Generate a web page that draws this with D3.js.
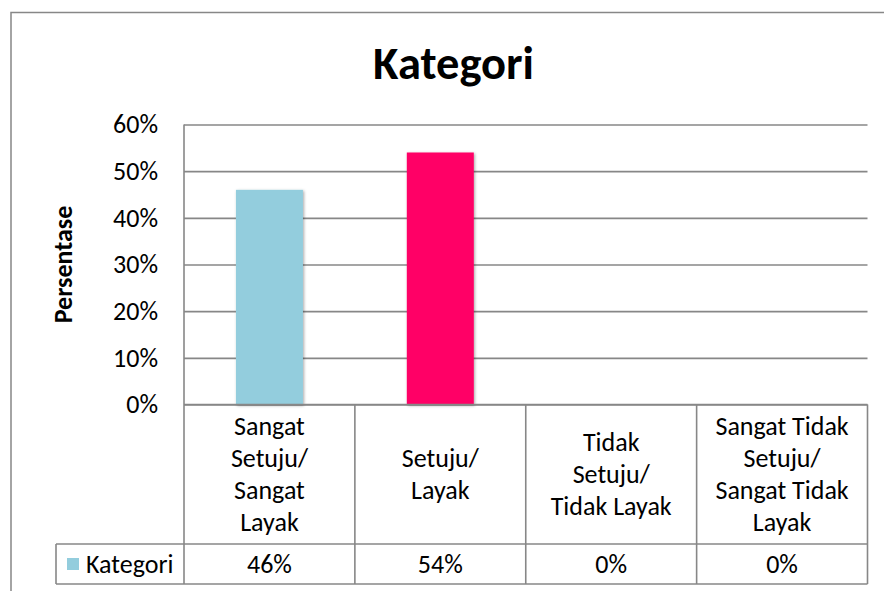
<!DOCTYPE html>
<html>
<head>
<meta charset="utf-8">
<script src="https://cdn.jsdelivr.net/npm/d3@7"></script>
<style>
  html, body { margin: 0; padding: 0; background: #fff; }
  #container { width: 884px; height: 591px; }
  text { font-family: Carlito, Calibri, Lato, sans-serif; fill: #000; }
</style>
</head>
<body>
<div id="container"></div>
<script>
// ---- data ----
const chartTitle = "Kategori";
const yTitle = "Persentase";
const seriesName = "Kategori";
// category labels, one entry per wrapped line
const categories = [
  ["Sangat", "Setuju/", "Sangat", "Layak"],
  ["Setuju/", "Layak"],
  ["Tidak", "Setuju/", "Tidak Layak"],
  ["Sangat Tidak", "Setuju/", "Sangat Tidak", "Layak"]
];
const values = [0.46, 0.54, 0, 0];
const valueLabels = ["46%", "54%", "0%", "0%"];
const barColors = ["#93cddd", "#ff0066", "#93cddd", "#93cddd"];
const yTicks = [0, 0.1, 0.2, 0.3, 0.4, 0.5, 0.6];

// ---- layout ----
const width = 884;
const height = 591;
const plotLeft = 184;
const plotRight = 867.5;
const plotTop = 124.5;
const plotBottom = 404.5;
const rowSplit = 544; // bottom of category row / top of value row
const tableBottom = 584;
const legendLeft = 56;
const lineColor = "#878787";
const fontSize = 26;

const svg = d3
  .select("#container")
  .append("svg")
  .attr("width", width)
  .attr("height", height)
  .attr("viewBox", [0, 0, width, height]);

// bar shadow
const defs = svg.append("defs");
defs
  .append("filter")
  .attr("id", "shadow")
  .attr("x", "-20%")
  .attr("y", "-20%")
  .attr("width", "140%")
  .attr("height", "140%")
  .append("feDropShadow")
  .attr("dx", 1)
  .attr("dy", 1)
  .attr("stdDeviation", 1.6)
  .attr("flood-color", "#000")
  .attr("flood-opacity", 0.35);

// outer chart frame (cut off at right and bottom)
svg
  .append("rect")
  .attr("x", 11)
  .attr("y", 12.5)
  .attr("width", 900)
  .attr("height", 600)
  .attr("fill", "#fff")
  .attr("stroke", lineColor)
  .attr("stroke-width", 1.5);

// scales
const x = d3
  .scaleBand()
  .domain(d3.range(categories.length))
  .range([plotLeft, plotRight])
  .padding(0);
const y = d3.scaleLinear().domain([0, 0.6]).range([plotBottom, plotTop]);
const barWidth = x.bandwidth() * 0.392;

// title
svg
  .append("text")
  .attr("x", 453.5)
  .attr("y", 79)
  .attr("text-anchor", "middle")
  .attr("font-size", 46.5)
  .attr("font-weight", "bold")
  .text(chartTitle);

// y axis + gridlines
svg
  .append("g")
  .attr("transform", `translate(${plotLeft},0)`)
  .call(
    d3
      .axisLeft(y)
      .tickValues(yTicks)
      .tickFormat(d3.format(".0%"))
      .tickSize(-(plotRight - plotLeft))
      .tickPadding(26)
  )
  .call((g) => g.select(".domain").remove())
  .call((g) =>
    g.selectAll(".tick line").attr("stroke", lineColor).attr("stroke-width", 1.6)
  )
  .call((g) =>
    g
      .selectAll(".tick text")
      .attr("font-size", fontSize)
      .attr("font-family", "Carlito, Calibri, Lato, sans-serif")
      .attr("fill", "#000")
  );

// y axis title
svg
  .append("text")
  .attr("transform", `translate(62.5,${(plotTop + plotBottom) / 2}) rotate(-90)`)
  .attr("text-anchor", "middle")
  .attr("dy", "0.35em")
  .attr("font-size", fontSize)
  .attr("font-weight", "bold")
  .text(yTitle);

// bars
svg
  .append("g")
  .selectAll("rect")
  .data(values.map((v, i) => ({ v, i })).filter((d) => d.v > 0))
  .join("rect")
  .attr("x", (d) => x(d.i) + (x.bandwidth() - barWidth) / 2)
  .attr("y", (d) => y(d.v))
  .attr("width", barWidth)
  .attr("height", (d) => y(0) - y(d.v))
  .attr("fill", (d) => barColors[d.i])
  .attr("filter", "url(#shadow)");

// data table lines
const table = svg
  .append("g")
  .attr("stroke", lineColor)
  .attr("stroke-width", 1.6)
  .attr("fill", "none");
// horizontal
table.append("line").attr("x1", plotLeft).attr("x2", plotRight).attr("y1", y(0)).attr("y2", y(0));
table.append("line").attr("x1", legendLeft).attr("x2", plotRight).attr("y1", rowSplit).attr("y2", rowSplit);
table.append("line").attr("x1", legendLeft).attr("x2", plotRight).attr("y1", tableBottom).attr("y2", tableBottom);
// vertical
table.append("line").attr("x1", plotLeft).attr("x2", plotLeft).attr("y1", plotTop).attr("y2", tableBottom);
table.append("line").attr("x1", legendLeft).attr("x2", legendLeft).attr("y1", rowSplit).attr("y2", tableBottom);
table
  .selectAll(".col")
  .data(d3.range(1, categories.length + 1))
  .join("line")
  .attr("x1", (i) => (i < categories.length ? x(i) : plotRight))
  .attr("x2", (i) => (i < categories.length ? x(i) : plotRight))
  .attr("y1", y(0))
  .attr("y2", tableBottom);

// category labels
const lineHeight = 32;
const catMid = (y(0) + rowSplit) / 2;
svg
  .append("g")
  .attr("font-size", fontSize)
  .attr("text-anchor", "middle")
  .selectAll("text")
  .data(categories)
  .join("text")
  .attr("x", (d, i) => x(i) + x.bandwidth() / 2)
  .each(function (lines) {
    const t = d3.select(this);
    lines.forEach((line, k) => {
      t.append("tspan")
        .attr("x", t.attr("x"))
        .attr("y", catMid + (k - (lines.length - 1) / 2) * lineHeight)
        .attr("dy", "0.33em")
        .text(line);
    });
  });

// value row
const valMid = (rowSplit + tableBottom) / 2;
svg
  .append("g")
  .attr("font-size", fontSize)
  .attr("text-anchor", "middle")
  .selectAll("text")
  .data(valueLabels)
  .join("text")
  .attr("x", (d, i) => x(i) + x.bandwidth() / 2)
  .attr("y", valMid)
  .attr("dy", "0.33em")
  .text((d) => d);

// legend key in table
svg
  .append("rect")
  .attr("x", 67)
  .attr("y", valMid - 6)
  .attr("width", 12)
  .attr("height", 12)
  .attr("fill", barColors[0]);
svg
  .append("text")
  .attr("x", 86)
  .attr("y", valMid)
  .attr("dy", "0.33em")
  .attr("font-size", fontSize)
  .text(seriesName);
</script>
</body>
</html>
